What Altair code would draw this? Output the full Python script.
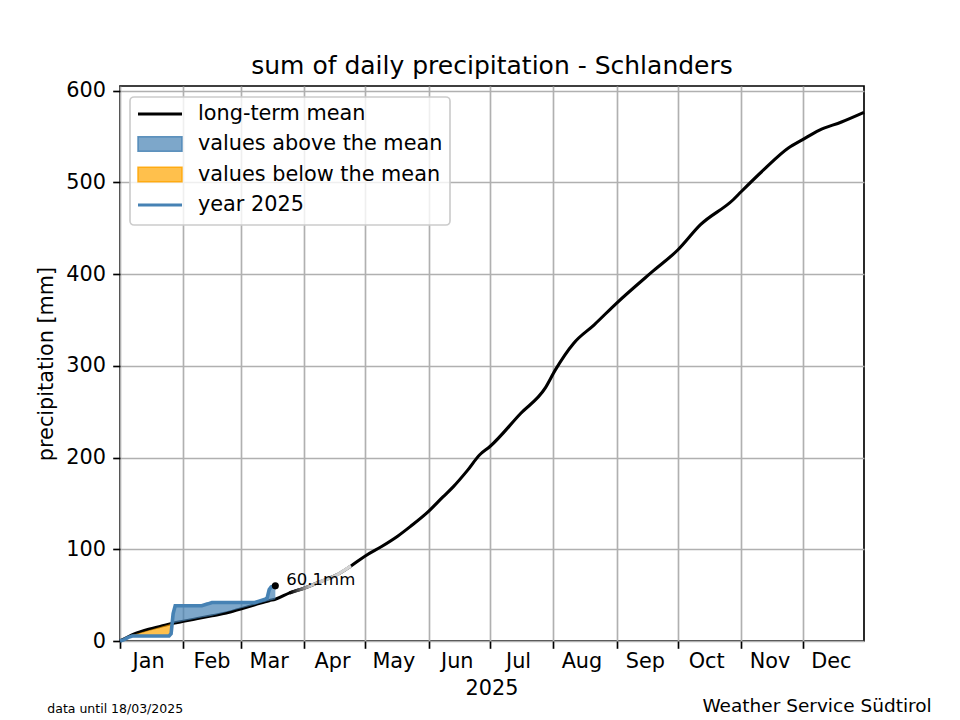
import altair as alt
import pandas as pd

# ---------------- data ----------------
month_names = ["Jan", "Feb", "Mar", "Apr", "May", "Jun", "Jul", "Aug", "Sep", "Oct", "Nov", "Dec"]
month_start_days = [0, 31, 59, 90, 120, 151, 181, 212, 243, 273, 304, 334]
month_mid_days = [14, 45, 73, 104, 134, 165, 195, 226, 257, 287, 318, 348]
y_ticks = [0, 100, 200, 300, 400, 500, 600]

# long-term mean of cumulative precipitation (day of year, mm)
mean_days = [0, 4, 7, 14, 20, 26, 31, 38, 45, 52, 59, 66, 73, 76, 83, 90, 98, 106, 113, 120,
             128, 136, 142, 150, 158, 163, 170, 176, 181, 196, 208, 213, 222, 232, 243, 260,
             273, 284, 300, 304, 315, 327, 334, 342, 353, 364]
mean_mm = [0, 4.5, 7.6, 12.7, 16, 19.3, 21.5, 24.5, 27.5, 30.5, 35, 39.5, 44, 45.5, 52.5, 57.5,
           64.7, 72, 81.8, 92.7, 103, 114.5, 124.7, 139.3, 157, 168, 186, 203, 212, 248,
           275.6, 295.6, 324.7, 344.7, 368.4, 401.8, 426.5, 453.8, 481, 490, 513.8, 537.4,
           546.5, 556.7, 565.8, 576.3]

# year 2025 cumulative precipitation (day of year, mm) and the mean read at those days
y2025_days = [0, 2, 4, 6, 24, 25, 26, 27, 40, 43, 45, 66, 68, 71, 72, 73, 74, 76]
y2025_mm = [0, 1.5, 4, 5.5, 5.5, 8, 30, 38.5, 38.5, 40.5, 42, 42, 43.5, 45.5, 47, 56, 59, 60.1]
mean_at_2025_mm = [0, 2.3, 4.5, 6.5, 18, 18.7, 19.3, 19.8, 25.5, 26.7, 27.5, 39.5, 40.8, 42.7,
                   43.3, 44, 44.5, 45.5]

fade_start_day = 83
fade_end_day = 113

title_text = "sum of daily precipitation - Schlanders"
x_title = "2025"
y_title = "precipitation [mm]"
note_left = "data until 18/03/2025"
note_right = "Weather Service Südtirol"
legend_labels = ["long-term mean", "values above the mean", "values below the mean", "year 2025"]

# ---------------- frames ----------------
mean_df = pd.DataFrame({"day": mean_days, "mm": mean_mm})
y25_df = pd.DataFrame({"day": y2025_days, "p": y2025_mm, "m": mean_at_2025_mm})
last_df = pd.DataFrame({"day": [y2025_days[-1]], "p": [y2025_mm[-1]],
                        "label": [f"{y2025_mm[-1]}mm"]})
months_df = pd.DataFrame({"day": month_mid_days, "name": month_names})
one = pd.DataFrame({"a": [0]})

W, H = 744, 555
FONT = "DejaVu Sans"
FS = 20.8

xscale = alt.Scale(domain=[0, 364], nice=False, zero=False)
yscale = alt.Scale(domain=[0, 605], nice=False)

x_axis = alt.Axis(values=month_start_days, labels=False, title=None, grid=True,
                  gridColor="#b0b0b0", gridWidth=1.67, tickSize=7.3, tickWidth=1.67,
                  tickColor="black", domain=False)
y_axis = alt.Axis(values=y_ticks, title=y_title, grid=True, gridColor="#b0b0b0",
                  gridWidth=1.67, tickSize=7.3, tickWidth=1.67, tickColor="black",
                  domain=False, labelFontSize=FS, titleFontSize=FS, labelFont=FONT,
                  titleFont=FONT, titleFontWeight="normal", labelColor="black",
                  titleColor="black", labelPadding=7.3, titlePadding=9)


def X(field="day"):
    return alt.X(f"{field}:Q", scale=xscale, axis=x_axis)


def Y(field):
    return alt.Y(f"{field}:Q", scale=yscale, axis=y_axis)


mean_line = alt.Chart(mean_df).mark_line(
    color="black", strokeWidth=3.1, interpolate="monotone"
).encode(x=X(), y=Y("mm"))

fade = alt.Chart(mean_df).transform_filter(
    f"datum.day >= {fade_start_day} && datum.day <= {fade_end_day}"
).mark_line(
    strokeWidth=3.4, interpolate="monotone",
    stroke=alt.Gradient(
        gradient="linear",
        stops=[alt.GradientStop(color="#000000", offset=0),
               alt.GradientStop(color="#c4c4c4", offset=0.35),
               alt.GradientStop(color="#d6d6d6", offset=1)],
        x1=0, x2=1, y1=0, y2=0,
    ),
).encode(x=X(), y=Y("mm"))

above = alt.Chart(y25_df).transform_calculate(
    hi="max(datum.p, datum.m)"
).mark_area(color="steelblue", opacity=0.7).encode(x=X(), y=Y("hi"), y2="m:Q")
below = alt.Chart(y25_df).transform_calculate(
    lo="min(datum.p, datum.m)"
).mark_area(color="orange", opacity=0.7).encode(x=X(), y=Y("lo"), y2="m:Q")
line25 = alt.Chart(y25_df).mark_line(color="steelblue", strokeWidth=3.6).encode(
    x=X(), y=Y("p"))
dot = alt.Chart(last_df).mark_point(filled=True, color="black", size=50, opacity=1).encode(
    x=X(), y=Y("p"))
dot_label = alt.Chart(last_df).mark_text(
    align="left", baseline="middle", dx=11, dy=-6, fontSize=16.5, font=FONT, color="black"
).encode(x=X(), y=Y("p"), text="label:N")

month_labels = alt.Chart(months_df).mark_text(
    align="center", baseline="alphabetic", fontSize=FS, font=FONT, color="black"
).encode(x=X(), y=alt.value(H + 27), text="name:N")


def txt(text, x, y, size, align="center"):
    return alt.Chart(one).mark_text(
        text=text, align=align, baseline="alphabetic", fontSize=size, font=FONT, color="black"
    ).encode(x=alt.value(x), y=alt.value(y))


title = txt(title_text, W / 2, -11.7, 25)
xlab = txt(x_title, W / 2, H + 54, FS)
note_l = txt(note_left, -72.7, H + 72, 12.5, "left")
note_r = txt(note_right, 811.7, H + 71, 18.5, "right")

# ---------------- legend ----------------
leg_frame = alt.Chart(one).mark_rect(
    fill="white", fillOpacity=0.8, stroke="#cccccc", strokeWidth=1.67, cornerRadius=4
).encode(x=alt.value(10), x2=alt.value(330), y=alt.value(11), y2=alt.value(139))
leg_y = [28, 58, 88.5, 119]
leg_items = [
    alt.Chart(one).mark_rule(color="black", strokeWidth=3.1).encode(
        x=alt.value(18), x2=alt.value(62), y=alt.value(leg_y[0])),
    alt.Chart(one).mark_rect(fill="steelblue", fillOpacity=0.7, stroke="steelblue",
                             strokeOpacity=0.85, strokeWidth=1.5).encode(
        x=alt.value(18), x2=alt.value(62), y=alt.value(leg_y[1] - 7.3), y2=alt.value(leg_y[1] + 7.3)),
    alt.Chart(one).mark_rect(fill="orange", fillOpacity=0.7, stroke="orange",
                             strokeOpacity=0.85, strokeWidth=1.5).encode(
        x=alt.value(18), x2=alt.value(62), y=alt.value(leg_y[2] - 7.3), y2=alt.value(leg_y[2] + 7.3)),
    alt.Chart(one).mark_rule(color="steelblue", strokeWidth=3.1).encode(
        x=alt.value(18), x2=alt.value(62), y=alt.value(leg_y[3])),
]
leg_texts = [
    alt.Chart(one).mark_text(text=lab, align="left", baseline="middle", fontSize=FS,
                             font=FONT, color="black").encode(x=alt.value(78), y=alt.value(yy))
    for lab, yy in zip(legend_labels, leg_y)
]

chart = alt.layer(
    mean_line, above, below, fade, line25, dot, dot_label, month_labels,
    title, xlab, note_l, note_r, leg_frame, *leg_items, *leg_texts,
).properties(
    width=W, height=H, autosize="none",
    padding={"left": 112, "top": 78, "right": 88, "bottom": 78},
    background="white",
).configure_view(stroke="black", strokeWidth=1.67)

chart.save("out.html", embed_options={"renderer": "svg", "actions": False})
